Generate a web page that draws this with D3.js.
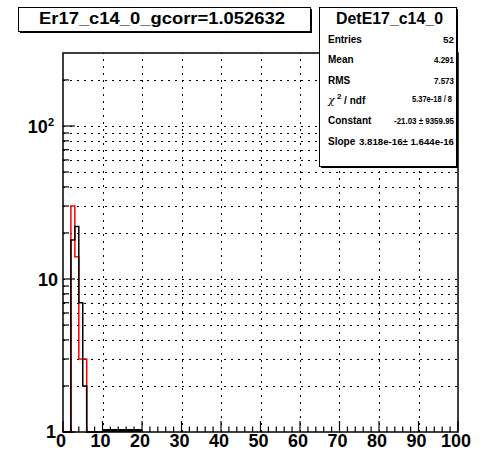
<!DOCTYPE html>
<html lang="en">
<head>
<meta charset="UTF-8">
<title>DetE17_c14_0</title>
<script src="https://d3js.org/d3.v7.min.js"></script>
<style>
  body { margin: 0; background: #fff; }
  text { font-family: "Liberation Sans", Arial, sans-serif; font-weight: bold; }
</style>
</head>
<body>
<svg width="493" height="453"></svg>
<script>
// histogram bins (lower edge, width 1) and contents
var binLow = [0, 1, 2, 3, 4, 5, 6, 7, 8, 9];
var blackCounts = [0, 0, 18, 22, 7, 2, 0, 0, 0, 0];
var redCounts = [0, 0, 30, 14, 3, 3, 0, 0, 0, 0];

// pol1 fit drawn over its range
var fitRange = [10, 20];
var fitConstant = -21.03;
var fitSlope = 3.818e-16;

var xTicks = [0, 10, 20, 30, 40, 50, 60, 70, 80, 90, 100];
var yMajor = [1, 10, 100];
var yLabels = ["1", "10", "10"];
var yMinor = [2, 3, 4, 5, 6, 7, 8, 9, 20, 30, 40, 50, 60, 70, 80, 90, 200];

var histTitle = "Er17_c14_0_gcorr=1.052632";
var statsTitle = "DetE17_c14_0";
var statLabels = ["Entries", "Mean", "RMS", "chi2", "Constant", "Slope"];
var statValues = ["52", "4.291", "7.573", "5.37e-18 / 8", "-21.03 \u00b1 9359.95", "3.818e-16\u00b1 1.644e-16"];
// widths of the value strings
var statValueWidth = [11, 20, 20, 40, 60, 95];

var margin = {left: 63, right: 35, top: 53, bottom: 21};
var W = 493, H = 453;
var svg = d3.select("svg");

var x = d3.scaleLinear().domain([0, 100]).range([margin.left, W - margin.right]);
var y = d3.scaleLog().domain([1, 300]).range([H - margin.bottom, margin.top]);
var x0 = x.range()[0], x1 = x.range()[1], yb = y.range()[0], yt = y.range()[1];

// grid
var grid = svg.append("g").attr("stroke", "#000").attr("stroke-width", 1)
  .attr("stroke-dasharray", "2,5").attr("fill", "none");
grid.selectAll(".gx").data(xTicks.slice(1, -1)).enter().append("line")
  .attr("x1", d => Math.round(x(d)) + 0.5).attr("x2", d => Math.round(x(d)) + 0.5)
  .attr("y1", yb).attr("y2", yt);
grid.selectAll(".gy").data(yMinor.concat([10, 100])).enter().append("line")
  .attr("y1", d => Math.round(y(d)) + 0.5).attr("y2", d => Math.round(y(d)) + 0.5)
  .attr("x1", x0).attr("x2", x1);

// histogram outline
function histPath(counts) {
  var pts = [[binLow[0], 1]];
  counts.forEach(function(c, i) { pts.push([binLow[i], Math.max(c, 1)]); });
  pts.push([binLow[binLow.length - 1] + 1, 1]);
  return d3.line().curve(d3.curveStepAfter)
    .x(d => x(d[0])).y(d => y(d[1]))(pts);
}
svg.append("path").attr("d", histPath(redCounts))
  .attr("fill", "none").attr("stroke", "#ff0000").attr("stroke-width", 1.5);
svg.append("path").attr("d", histPath(blackCounts))
  .attr("fill", "none").attr("stroke", "#000").attr("stroke-width", 1.5);

// fit function (negative values clipped at the axis minimum)
var fitPts = d3.range(0, 21).map(function(i) {
  var xv = fitRange[0] + (fitRange[1] - fitRange[0]) * i / 20;
  var v = fitConstant + fitSlope * xv;
  return [xv, Math.max(v, y.domain()[0])];
});
svg.append("path")
  .attr("d", d3.line().x(d => x(d[0])).y(d => y(d[1]) - 1.5)(fitPts))
  .attr("fill", "none").attr("stroke", "#000").attr("stroke-width", 3);

// frame
svg.append("rect").attr("x", x0).attr("y", yt).attr("width", x1 - x0).attr("height", yb - yt)
  .attr("fill", "none").attr("stroke", "#000").attr("stroke-width", 1.5);

// ticks
var xMinorTicks = d3.range(0, 101, 2).filter(d => d % 10 !== 0);
var ticks = svg.append("g").attr("stroke", "#000").attr("stroke-width", 1.2);
ticks.selectAll(".xM").data(xTicks).enter().append("line")
  .attr("x1", d => x(d)).attr("x2", d => x(d)).attr("y1", yb).attr("y2", yb - 11);
ticks.selectAll(".xm").data(xMinorTicks).enter().append("line")
  .attr("x1", d => x(d)).attr("x2", d => x(d)).attr("y1", yb).attr("y2", yb - 5.5);
ticks.selectAll(".yM").data(yMajor).enter().append("line")
  .attr("y1", d => y(d)).attr("y2", d => y(d)).attr("x1", x0).attr("x2", x0 + 12);
ticks.selectAll(".ym").data(yMinor).enter().append("line")
  .attr("y1", d => y(d)).attr("y2", d => y(d)).attr("x1", x0).attr("x2", x0 + 6);

// x labels
svg.selectAll(".xl").data(xTicks).enter().append("text")
  .attr("x", d => x(d) - 2).attr("y", 447)
  .attr("text-anchor", "middle").attr("font-size", 18)
  .text(d => d);

// y labels
yMajor.forEach(function(v, i) {
  var t = svg.append("text").attr("font-size", 18).attr("text-anchor", "end");
  if (v === 1) {
    t.attr("x", 56).attr("y", y(v) + 6).text(yLabels[i]);
  } else if (v === 10) {
    t.attr("x", 58).attr("y", y(v) + 7).text(yLabels[i]);
  } else {
    t.attr("x", 54).attr("y", y(v) + 7);
    t.append("tspan").text(yLabels[i]);
    t.append("tspan").attr("font-size", 11).attr("dy", -7).text("2");
  }
});

// boxes with shadow
function paveBox(bx, by, bw, bh) {
  svg.append("rect").attr("x", bx + 2).attr("y", by + 2).attr("width", bw).attr("height", bh)
    .attr("fill", "#000");
  svg.append("rect").attr("x", bx + 0.5).attr("y", by + 0.5).attr("width", bw).attr("height", bh)
    .attr("fill", "#fff").attr("stroke", "#000").attr("stroke-width", 1);
}

// title
paveBox(18, 7, 292, 24);
svg.append("text").attr("x", 39).attr("y", 24)
  .attr("textLength", 246).attr("lengthAdjust", "spacingAndGlyphs")
  .attr("font-size", 17).text(histTitle);

// stats
paveBox(319, 7, 137, 159);
svg.append("text").attr("x", 336).attr("y", 24)
  .attr("textLength", 107).attr("lengthAdjust", "spacingAndGlyphs")
  .attr("font-size", 17).text(statsTitle);
statLabels.forEach(function(lab, i) {
  var by = 43 + i * 20.3;
  var t = svg.append("text").attr("x", 328).attr("y", by).attr("font-size", 10);
  if (lab === "chi2") {
    t.append("tspan").attr("font-family", "DejaVu Serif").attr("font-weight", "normal")
      .attr("font-style", "italic").attr("font-size", 11).text("\u03c7");
    t.append("tspan").attr("font-size", 8).attr("dy", -5).text(" 2");
    t.append("tspan").attr("dy", 5).text(" / ndf");
  } else {
    t.text(lab);
  }
  var w = statValueWidth[i];
  var right = i === 3 ? 452 : 454;
  svg.append("text").attr("x", right - w).attr("y", i === 3 ? by - 2 : by)
    .attr("font-size", 9.5).attr("textLength", w).attr("lengthAdjust", "spacingAndGlyphs")
    .text(statValues[i]);
});
</script>
</body>
</html>
